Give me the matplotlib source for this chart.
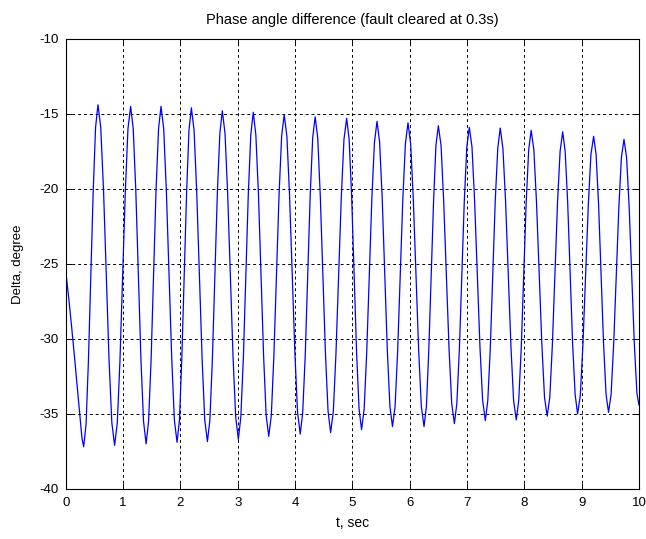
import matplotlib
matplotlib.use("Agg")
import matplotlib.pyplot as plt

# time samples (s): post-fault swing, then one row per half swing
t = [0.00, 0.05, 0.10, 0.15, 0.20, 0.24, 0.28, 0.31,
     0.352, 0.393, 0.435, 0.477, 0.518, 0.56,
     0.608, 0.657, 0.705, 0.753, 0.802, 0.85,
     0.897, 0.943, 0.990, 1.037, 1.083, 1.13,
     1.175, 1.220, 1.265, 1.310, 1.355, 1.40,
     1.443, 1.487, 1.530, 1.573, 1.617, 1.66,
     1.707, 1.753, 1.800, 1.847, 1.893, 1.94,
     1.982, 2.023, 2.065, 2.107, 2.148, 2.19,
     2.237, 2.283, 2.330, 2.377, 2.423, 2.47,
     2.513, 2.557, 2.600, 2.643, 2.687, 2.73,
     2.777, 2.823, 2.870, 2.917, 2.963, 3.01,
     3.053, 3.097, 3.140, 3.183, 3.227, 3.27,
     3.315, 3.360, 3.405, 3.450, 3.495, 3.54,
     3.585, 3.630, 3.675, 3.720, 3.765, 3.81,
     3.857, 3.903, 3.950, 3.997, 4.043, 4.09,
     4.133, 4.177, 4.220, 4.263, 4.307, 4.35,
     4.395, 4.440, 4.485, 4.530, 4.575, 4.62,
     4.667, 4.713, 4.760, 4.807, 4.853, 4.90,
     4.943, 4.987, 5.030, 5.073, 5.117, 5.16,
     5.205, 5.250, 5.295, 5.340, 5.385, 5.43,
     5.475, 5.520, 5.565, 5.610, 5.655, 5.70,
     5.745, 5.790, 5.835, 5.880, 5.925, 5.97,
     6.017, 6.063, 6.110, 6.157, 6.203, 6.25,
     6.292, 6.333, 6.375, 6.417, 6.458, 6.50,
     6.547, 6.593, 6.640, 6.687, 6.733, 6.78,
     6.823, 6.867, 6.910, 6.953, 6.997, 7.04,
     7.087, 7.133, 7.180, 7.227, 7.273, 7.32,
     7.363, 7.407, 7.450, 7.493, 7.537, 7.58,
     7.627, 7.673, 7.720, 7.767, 7.813, 7.86,
     7.903, 7.947, 7.990, 8.033, 8.077, 8.12,
     8.167, 8.213, 8.260, 8.307, 8.353, 8.40,
     8.445, 8.490, 8.535, 8.580, 8.625, 8.67,
     8.713, 8.757, 8.800, 8.843, 8.887, 8.93,
     8.977, 9.023, 9.070, 9.117, 9.163, 9.21,
     9.253, 9.297, 9.340, 9.383, 9.427, 9.47,
     9.515, 9.560, 9.605, 9.650, 9.695, 9.74,
     9.785, 9.830, 9.875, 9.920, 9.965, 10.00]

# phase angle difference (deg), same rows as t
delta = [-25.6, -27.3, -29.2, -31.2, -33.3, -35.0, -36.6, -37.2,
         -35.7, -31.5, -25.8, -20.1, -15.9, -14.4,
         -15.9, -20.1, -25.8, -31.4, -35.6, -37.1,
         -35.6, -31.5, -25.8, -20.2, -16.0, -14.5,
         -16.0, -20.1, -25.8, -31.4, -35.5, -37.0,
         -35.5, -31.4, -25.8, -20.1, -16.0, -14.5,
         -16.0, -20.1, -25.7, -31.3, -35.4, -36.9,
         -35.4, -31.3, -25.8, -20.2, -16.1, -14.6,
         -16.1, -20.2, -25.7, -31.3, -35.4, -36.85,
         -35.4, -31.3, -25.8, -20.3, -16.3, -14.8,
         -16.3, -20.3, -25.8, -31.2, -35.2, -36.7,
         -35.2, -31.3, -25.8, -20.4, -16.4, -14.9,
         -16.4, -20.3, -25.7, -31.1, -35.1, -36.5,
         -35.1, -31.1, -25.8, -20.4, -16.5, -15.05,
         -16.5, -20.4, -25.7, -31.0, -34.9, -36.35,
         -34.9, -31.1, -25.8, -20.5, -16.6, -15.2,
         -16.6, -20.5, -25.7, -31.0, -34.8, -36.25,
         -34.85, -31.0, -25.8, -20.5, -16.7, -15.3,
         -16.7, -20.5, -25.7, -30.9, -34.7, -36.05,
         -34.7, -30.9, -25.8, -20.6, -16.9, -15.5,
         -16.9, -20.6, -25.7, -30.8, -34.5, -35.85,
         -34.5, -30.8, -25.7, -20.7, -17.0, -15.6,
         -17.0, -20.7, -25.7, -30.8, -34.5, -35.85,
         -34.5, -30.8, -25.8, -20.8, -17.1, -15.8,
         -17.1, -20.8, -25.7, -30.7, -34.3, -35.65,
         -34.3, -30.7, -25.8, -20.8, -17.2, -15.9,
         -17.2, -20.8, -25.7, -30.6, -34.1, -35.45,
         -34.1, -30.6, -25.7, -20.8, -17.3, -15.95,
         -17.3, -20.8, -25.7, -30.5, -34.1, -35.4,
         -34.1, -30.6, -25.75, -20.9, -17.4, -16.1,
         -17.4, -20.9, -25.6, -30.4, -33.9, -35.15,
         -33.9, -30.4, -25.7, -20.9, -17.5, -16.2,
         -17.5, -20.9, -25.6, -30.3, -33.7, -35.0,
         -33.8, -30.4, -25.75, -21.1, -17.7, -16.5,
         -17.7, -21.1, -25.7, -30.3, -33.7, -34.9,
         -33.7, -30.35, -25.8, -21.25, -17.9, -16.7,
         -17.9, -21.2, -25.75, -30.3, -33.6, -34.4]

xticks = list(range(0, 11))
yticks = [-40, -35, -30, -25, -20, -15, -10]

plt.rcParams['font.family'] = ['Liberation Sans', 'DejaVu Sans']
plt.rcParams['font.size'] = 9.5
plt.rcParams['axes.unicode_minus'] = False

fig = plt.figure(figsize=(6.46, 5.39), dpi=100)
ax = fig.add_axes([0.102, 0.093, 0.887, 0.835])

ax.plot(t, delta, color='#0000ff', linewidth=0.9)

ax.set_xlim(0, 10)
ax.set_ylim(-40, -10)
ax.set_xticks(xticks)
ax.set_yticks(yticks)
ax.grid(True, color='black', linestyle=(0, (3, 3)), linewidth=0.7)
ax.tick_params(direction='in', top=True, right=True, length=4, width=0.7)
ax.tick_params(axis='x', pad=6)
ax.tick_params(axis='y', pad=5)
for sp in ax.spines.values():
    sp.set_linewidth(0.8)

ax.set_title("Phase angle difference (fault cleared at 0.3s)", fontsize=10.5, pad=11)
ax.set_xlabel("t, sec", fontsize=10, labelpad=5)
ax.set_ylabel("Delta, degree", fontsize=9.5, labelpad=11)

fig.savefig("out.png", dpi=100)
